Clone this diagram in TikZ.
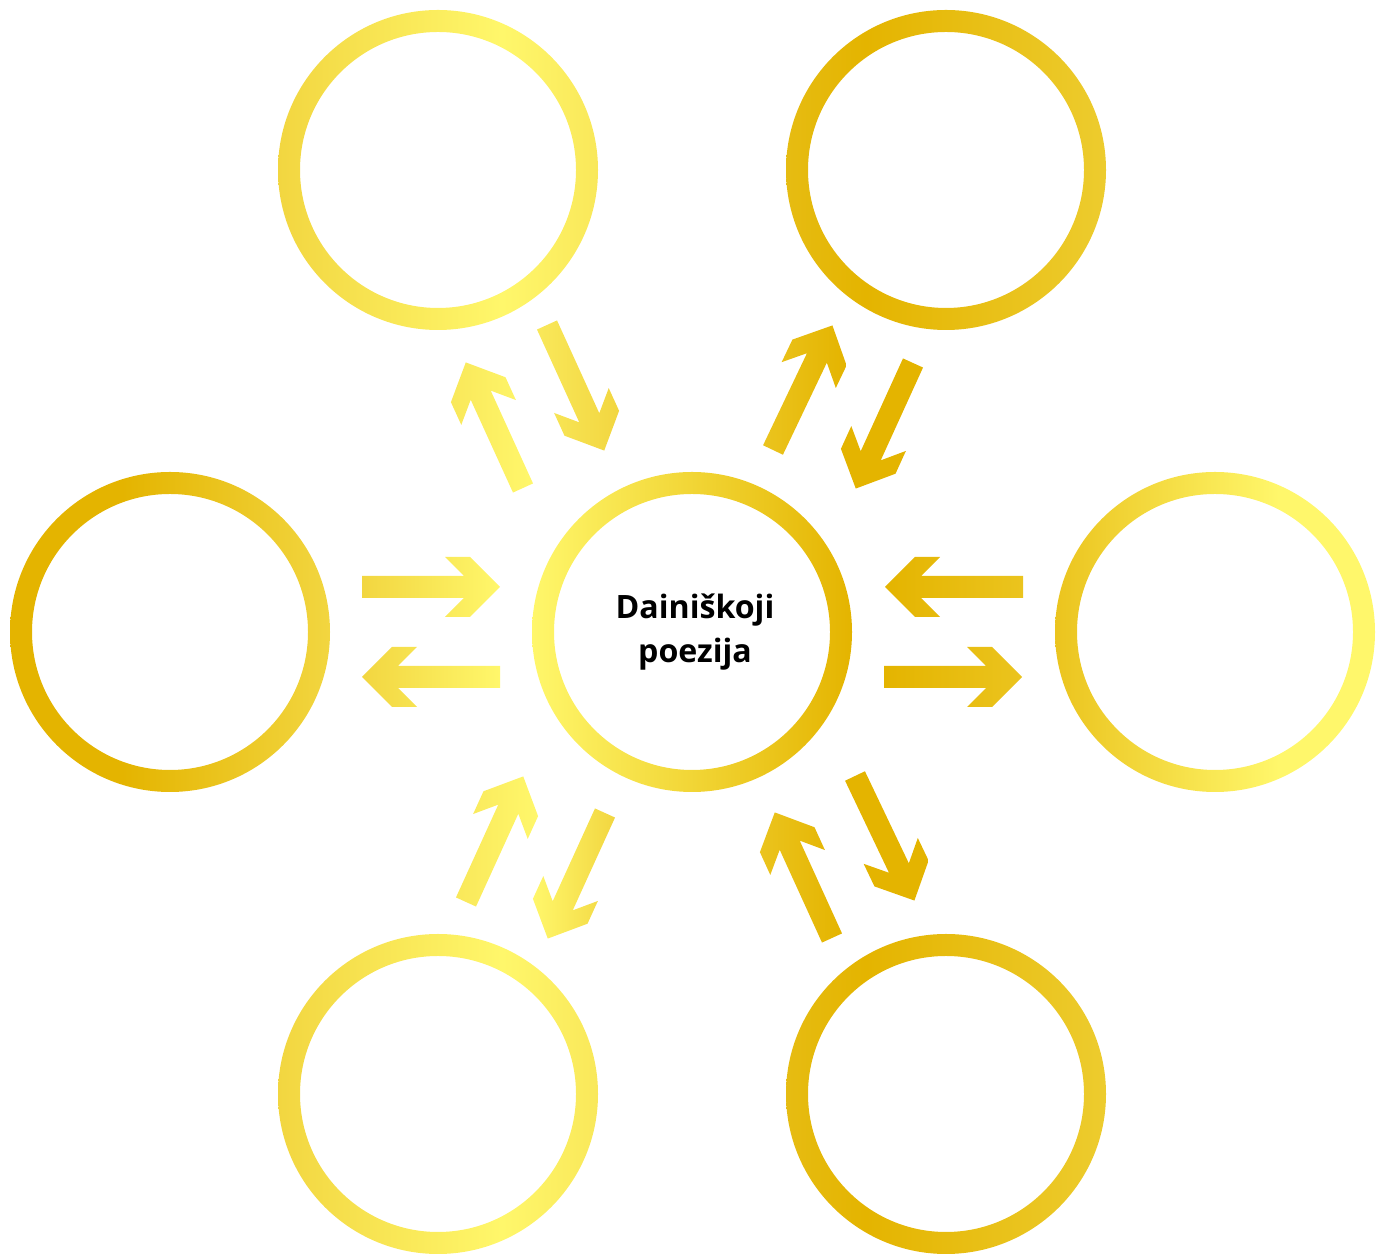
\documentclass[tikz,border=0pt]{standalone}
\usepackage{fontspec}
\newfontfamily\labelfont{Open Sans}
\usepackage{tikz}

\definecolor{gold}{HTML}{E4B400}
\definecolor{goldmid}{HTML}{EBC41E}
\definecolor{golddk}{HTML}{E6BC12}
\definecolor{goldlt}{HTML}{EDCC2E}
\definecolor{amber}{HTML}{F2D640}
\definecolor{lemon}{HTML}{F9E85A}
\definecolor{pale}{HTML}{FFF76B}

\pgfdeclarehorizontalshading{ringtl}{100bp}{color(0bp)=(amber); color(25bp)=(amber); color(60bp)=(pale); color(75bp)=(lemon); color(100bp)=(lemon)}
\pgfdeclarehorizontalshading{ringtr}{100bp}{color(0bp)=(golddk); color(25bp)=(golddk); color(37.5bp)=(gold); color(75bp)=(goldlt); color(100bp)=(goldlt)}
\pgfdeclarehorizontalshading{ringl}{100bp}{color(0bp)=(gold); color(42.5bp)=(gold); color(75bp)=(amber); color(100bp)=(amber)}
\pgfdeclarehorizontalshading{ringc}{100bp}{color(0bp)=(pale); color(25bp)=(pale); color(75bp)=(gold); color(100bp)=(gold)}
\pgfdeclarehorizontalshading{ringr}{100bp}{color(0bp)=(goldmid); color(25bp)=(goldmid); color(60bp)=(pale); color(100bp)=(pale)}

\begin{document}
\begin{tikzpicture}[
    x=0.02cm, y=0.02cm,
    ring/.style={even odd rule, shading=#1},
    centretext/.style={font=\labelfont\bfseries\fontsize{18.3}{25.5}\selectfont, align=center, text=black, inner sep=0pt},
    pics/barrow/.style 2 args={code={
        \shade[left color=#1, right color=#2] (0,11) -- (102,11) -- (83,30) -- (108,30) -- (138,0)
            -- (108,-30) -- (83,-30) -- (102,-11) -- (0,-11) -- cycle;}}
]
\useasboundingbox (0,0) rectangle (1386,1257);

% ring centres
\coordinate (centre) at (692,625);
\coordinate (tl) at (438,1087);
\coordinate (tr) at (946,1087);
\coordinate (l) at (170,625);
\coordinate (r) at (1215,625);
\coordinate (bl) at (438,163);
\coordinate (br) at (946,163);

\shade[ring=ringc] (centre) circle (160) (centre) circle (138);
\shade[ring=ringtl] (tl) circle (160) (tl) circle (138);
\shade[ring=ringtr] (tr) circle (160) (tr) circle (138);
\shade[ring=ringl] (l) circle (160) (l) circle (138);
\shade[ring=ringr] (r) circle (160) (r) circle (138);
\shade[ring=ringtl] (bl) circle (160) (bl) circle (138);
\shade[ring=ringtr] (br) circle (160) (br) circle (138);

\node[centretext] (title) at (695,625) {Dainiškoji\\poezija};

% arrow pairs
\pic at (362,670) {barrow={amber}{pale}};
\pic[rotate=180] at (500,580) {barrow={amber}{pale}};
\pic[rotate=180] at (1023,670) {barrow={gold}{goldmid}};
\pic at (884,580) {barrow={gold}{goldmid}};
\pic[rotate=114.5] at (523,769) {barrow={lemon}{pale}};
\pic[rotate=-65.5] at (547,932) {barrow={lemon}{amber}};
\pic[rotate=64.5] at (773,807) {barrow={goldmid}{gold}};
\pic[rotate=245.5] at (913,894) {barrow={gold}{gold}};
\pic[rotate=245.5] at (605,444) {barrow={pale}{amber}};
\pic[rotate=65.5] at (466,355) {barrow={lemon}{pale}};
\pic[rotate=-64.5] at (855,481) {barrow={gold}{gold}};
\pic[rotate=114.5] at (832,319) {barrow={goldmid}{gold}};
\end{tikzpicture}
\end{document}
